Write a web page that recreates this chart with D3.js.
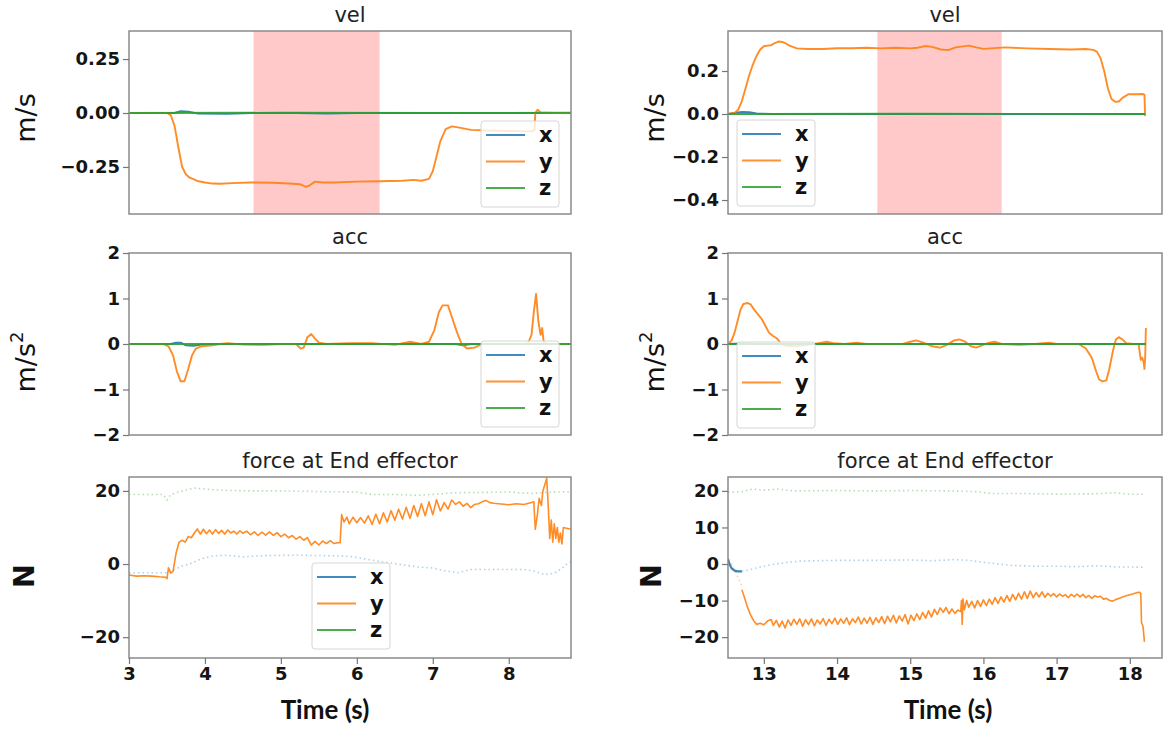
<!DOCTYPE html>
<html>
<head>
<meta charset="utf-8">
<script src="https://cdn.jsdelivr.net/npm/d3@7"></script>
<style>
body{margin:0;background:#fff;}
svg{display:block;font-family:"DejaVu Sans",sans-serif;}
</style>
</head>
<body>
<script>
// ---- data ----
const bandL=[4.64,6.3], bandR=[14.55,16.25];

const velTicksL=[0.25,0,-0.25], velTicksR=[0.2,0,-0.2,-0.4];
const accTicks=[2,1,0,-1,-2];
const forceTicksL=[20,0,-20], forceTicksR=[20,10,0,-10,-20];
const timeTicksL=[3,4,5,6,7,8], timeTicksR=[13,14,15,16,17,18];

// left column (3 - 8.8 s)
const velL_x=[[3,0],[3.6,0],[3.68,0.008],[3.78,0.006],[3.9,-0.002],[4.3,-0.004],[4.6,0],[5.2,0],[5.6,-0.003],[6.0,0],[8.82,0]];
const velL_y=[[3.0,0],[3.5,0],[3.55,-0.01],[3.6,-0.06],[3.65,-0.16],[3.7,-0.25],[3.75,-0.285],[3.8,-0.3],[3.9,-0.315],[4.0,-0.322],[4.1,-0.327],[4.2,-0.328],[4.35,-0.325],[4.6,-0.322],[4.9,-0.323],[5.1,-0.327],[5.25,-0.33],[5.33,-0.342],[5.38,-0.335],[5.45,-0.318],[5.55,-0.322],[5.7,-0.322],[6.0,-0.318],[6.3,-0.316],[6.6,-0.314],[6.75,-0.31],[6.85,-0.314],[6.95,-0.305],[7.0,-0.27],[7.05,-0.2],[7.1,-0.13],[7.17,-0.075],[7.25,-0.062],[7.35,-0.068],[7.5,-0.078],[7.8,-0.082],[8.1,-0.084],[8.3,-0.085],[8.34,-0.08],[8.35,0.0],[8.38,0.015],[8.42,0.003],[8.6,0.0],[8.82,0.0]];
const velL_z=[[3,0],[5,0.001],[7,0],[8.82,0.001]];

const accL_x=[[3,0],[3.55,0],[3.62,0.03],[3.68,0.03],[3.75,-0.03],[3.85,-0.04],[3.95,-0.01],[4.1,0],[7.3,0],[7.4,-0.03],[7.5,0],[8.82,0]];
const accL_y=[[3,0],[3.45,0],[3.52,-0.05],[3.58,-0.25],[3.63,-0.6],[3.68,-0.82],[3.73,-0.82],[3.78,-0.55],[3.83,-0.25],[3.88,-0.1],[3.95,-0.05],[4.1,-0.03],[4.2,0],[4.3,0.02],[4.5,-0.01],[4.8,-0.02],[5.0,0],[5.2,0],[5.26,-0.1],[5.3,-0.08],[5.35,0.15],[5.4,0.22],[5.45,0.12],[5.5,0.03],[5.6,0],[5.9,0.02],[6.2,0.02],[6.5,-0.02],[6.7,0.05],[6.85,0],[6.95,0.05],[7.02,0.3],[7.08,0.7],[7.13,0.85],[7.2,0.85],[7.25,0.6],[7.32,0.25],[7.38,0.0],[7.45,-0.1],[7.55,-0.08],[7.65,0],[8.25,0],[8.3,0.2],[8.33,0.7],[8.36,1.1],[8.39,0.5],[8.42,0.2],[8.44,0.35],[8.46,0.05],[8.5,0],[8.82,0]];
const accL_z=[[3,0],[8.82,0]];

const forceL_x=[[3,-2.4],[3.5,-2.4],[3.6,-1.5],[3.7,-0.5],[3.8,0],[3.95,1.4],[4.1,2.2],[4.25,2.4],[4.5,2],[4.8,2.3],[5.2,2.4],[5.6,2.3],[5.9,2.1],[6.1,1.4],[6.3,0.7],[6.6,-0.2],[6.8,-0.8],[7.0,-1.1],[7.15,-1.8],[7.33,-2.4],[7.5,-1.5],[7.8,-1.5],[8.2,-1.5],[8.35,-2],[8.47,-2.9],[8.6,-2.5],[8.7,-1.2],[8.78,0.3],[8.82,0.5]];
const forceL_y=[[3.0,-3],[3.1,-3.3],[3.2,-3.2],[3.3,-3.3],[3.4,-3.5],[3.48,-3.6],[3.5,-4],[3.52,-1],[3.55,-2.5],[3.58,-2],[3.62,3],[3.66,6],[3.7,6.5],[3.74,6],[3.78,7.5],[3.82,7.2],[3.86,8.5],[3.9,9.6],[3.94,8.2],[3.98,9.5],[4.02,8.3],[4.06,9.3],[4.1,8.2],[4.14,9.4],[4.18,8.4],[4.22,9.2],[4.26,8.2],[4.3,9.3],[4.34,8.5],[4.38,9],[4.42,8.2],[4.46,9.1],[4.5,8.4],[4.55,9.0],[4.6,8],[4.65,8.8],[4.7,7.8],[4.75,8.7],[4.8,7.9],[4.85,8.8],[4.9,7.8],[4.95,8.6],[5.0,7.5],[5.05,8.2],[5.1,7.2],[5.15,7.8],[5.2,6.8],[5.25,7.5],[5.3,6.5],[5.35,7.2],[5.4,5.2],[5.45,6.2],[5.5,5.2],[5.55,6.3],[5.6,5.6],[5.65,6.4],[5.7,5.6],[5.75,5.8],[5.78,5.8],[5.8,13.5],[5.83,11.5],[5.87,12.8],[5.9,11],[5.95,12.8],[6.0,11.3],[6.05,12.7],[6.1,11.2],[6.15,13.2],[6.2,10.8],[6.25,13.6],[6.3,11],[6.35,14],[6.4,11.5],[6.45,14.6],[6.5,12],[6.55,15],[6.6,12.3],[6.65,15.5],[6.7,12.5],[6.75,16],[6.8,13],[6.85,16.5],[6.9,13.2],[6.95,17],[7.0,13.5],[7.05,17.6],[7.1,14.5],[7.15,16.8],[7.2,15],[7.25,17.5],[7.3,16.3],[7.35,17],[7.4,15.8],[7.45,16.6],[7.5,15.4],[7.55,16.3],[7.6,16.5],[7.65,17],[7.7,17.4],[7.75,16.8],[7.8,16.6],[7.9,16.4],[8.0,16.2],[8.1,16.5],[8.2,16.3],[8.3,16.8],[8.33,17],[8.35,9.5],[8.38,14],[8.4,18],[8.43,16],[8.45,20],[8.48,22],[8.5,23.5],[8.52,16],[8.54,7],[8.56,12],[8.58,6],[8.6,11],[8.62,7],[8.64,10],[8.66,6],[8.68,8.5],[8.7,5.5],[8.72,10],[8.76,9.8],[8.82,9.5]];
const forceL_z=[[3,19],[3.45,19],[3.5,17.5],[3.55,19],[3.7,20],[3.86,20.8],[4.0,20.5],[4.2,20.2],[4.6,20],[5.0,20],[5.5,19.8],[6.0,19.7],[6.2,19],[6.5,19],[6.8,18.8],[7.1,19.2],[7.3,19.5],[7.7,19.6],[8.0,19.7],[8.3,19.3],[8.5,19.6],[8.82,19.8]];

// right column (12.5 - 18.4 s)
const velR_x=[[12.51,0],[12.6,0.005],[12.7,0.01],[12.8,0.008],[12.9,0.003],[13.1,0],[18.2,0]];
const velR_y=[[12.51,0],[12.6,0.005],[12.65,0.02],[12.7,0.06],[12.75,0.12],[12.8,0.18],[12.85,0.23],[12.9,0.27],[12.95,0.3],[13.0,0.315],[13.05,0.318],[13.1,0.32],[13.15,0.33],[13.2,0.337],[13.25,0.335],[13.3,0.328],[13.35,0.318],[13.45,0.305],[13.6,0.302],[13.8,0.302],[14.0,0.306],[14.2,0.306],[14.4,0.308],[14.6,0.305],[14.8,0.308],[15.0,0.305],[15.1,0.308],[15.2,0.316],[15.3,0.312],[15.42,0.3],[15.52,0.297],[15.62,0.31],[15.8,0.318],[15.9,0.31],[16.0,0.303],[16.1,0.305],[16.3,0.31],[16.6,0.305],[16.9,0.302],[17.2,0.3],[17.4,0.302],[17.5,0.298],[17.55,0.29],[17.6,0.26],[17.65,0.2],[17.7,0.12],[17.75,0.07],[17.8,0.057],[17.85,0.058],[17.9,0.075],[17.98,0.092],[18.1,0.092],[18.18,0.093],[18.2,0.09],[18.21,-0.01]];
const velR_z=[[12.51,0],[15,0.001],[18.21,0]];

const accR_x=[[12.51,0],[12.7,0.01],[12.9,0],[18.22,0]];
const accR_y=[[12.51,0],[12.56,0.08],[12.6,0.25],[12.64,0.5],[12.68,0.75],[12.72,0.88],[12.78,0.9],[12.82,0.87],[12.87,0.75],[12.92,0.65],[12.97,0.55],[13.02,0.4],[13.07,0.25],[13.12,0.18],[13.18,0.12],[13.24,0.0],[13.3,-0.04],[13.45,-0.05],[13.6,-0.02],[13.75,0.02],[13.86,0.05],[13.95,0.02],[14.1,0],[14.27,0.03],[14.4,0],[14.9,0],[15.0,0.05],[15.08,0.08],[15.18,0.03],[15.3,-0.05],[15.41,-0.08],[15.5,-0.02],[15.6,0.08],[15.67,0.1],[15.75,0.05],[15.83,-0.05],[15.9,-0.08],[15.98,-0.03],[16.08,0.03],[16.15,0.05],[16.25,0.0],[16.5,-0.02],[16.7,0],[16.9,0.03],[17.0,0],[17.3,0],[17.4,-0.1],[17.48,-0.3],[17.54,-0.6],[17.58,-0.78],[17.63,-0.82],[17.68,-0.8],[17.72,-0.55],[17.77,-0.15],[17.81,0.1],[17.85,0.15],[17.9,0.1],[17.95,0.02],[18.05,0],[18.12,0],[18.15,-0.35],[18.17,-0.3],[18.19,-0.4],[18.2,-0.55],[18.21,-0.3],[18.22,0.35]];
const accR_z=[[12.51,0],[18.22,0]];

const forceR_xStart=[[12.51,1.4],[12.53,0],[12.56,-1.2],[12.6,-1.8],[12.64,-2],[12.7,-2]];
const forceR_x=[[12.7,-2],[12.8,-1.6],[12.95,-0.8],[13.1,-0.2],[13.3,0.4],[13.5,0.8],[13.7,0.9],[14.0,1],[14.5,1],[15.0,1.1],[15.3,0.9],[15.6,1.2],[15.8,1.0],[16.0,0.5],[16.2,0],[16.4,-0.4],[16.7,-0.6],[17.0,-0.6],[17.3,-0.7],[17.6,-0.5],[17.8,-0.8],[18.0,-0.8],[18.2,-0.9]];
const forceR_yStart=[[12.51,1],[12.56,0],[12.62,-2.5],[12.7,-6]];
const forceR_y=[[12.7,-7],[12.74,-9.5],[12.78,-12],[12.82,-14],[12.86,-15.5],[12.9,-16.5],[12.95,-16.2],[13.0,-16.6],[13.05,-15.6],[13.1,-15.2],[13.13,-16.8],[13.17,-15.4],[13.21,-17.2],[13.25,-15.6],[13.29,-17.5],[13.33,-15.3],[13.37,-16.8],[13.41,-15.1],[13.45,-16.5],[13.49,-15.0],[13.53,-17.0],[13.57,-15.2],[13.61,-16.6],[13.65,-15.0],[13.69,-16.9],[13.73,-15.3],[13.77,-16.4],[13.81,-14.9],[13.85,-16.8],[13.89,-15.1],[13.93,-16.3],[13.97,-14.8],[14.01,-16.5],[14.05,-15.0],[14.09,-16.2],[14.13,-14.7],[14.17,-16.6],[14.21,-15.0],[14.25,-16.0],[14.29,-14.5],[14.33,-16.4],[14.37,-14.8],[14.41,-16.2],[14.45,-14.6],[14.49,-16.5],[14.53,-14.7],[14.57,-16.0],[14.61,-14.4],[14.65,-16.3],[14.69,-14.3],[14.73,-15.8],[14.77,-14.0],[14.81,-16.1],[14.85,-14.2],[14.89,-15.6],[14.93,-13.8],[14.97,-16.4],[15.01,-14.0],[15.05,-15.5],[15.09,-13.6],[15.13,-15.2],[15.17,-13.2],[15.21,-14.8],[15.25,-12.8],[15.29,-14.5],[15.33,-12.4],[15.37,-13.8],[15.41,-12.0],[15.45,-13.2],[15.49,-11.9],[15.53,-13.6],[15.57,-12.3],[15.61,-13.5],[15.65,-12.6],[15.69,-13.0],[15.7,-10.0],[15.71,-16.5],[15.72,-9.5],[15.74,-12.5],[15.77,-10.0],[15.8,-11.8],[15.84,-10.2],[15.88,-12.0],[15.92,-10.0],[15.96,-11.6],[16.0,-9.8],[16.04,-11.4],[16.08,-9.6],[16.12,-11.0],[16.16,-9.2],[16.2,-10.8],[16.24,-9.0],[16.28,-10.4],[16.32,-8.6],[16.36,-10.2],[16.4,-8.3],[16.44,-9.8],[16.48,-8.0],[16.52,-9.6],[16.56,-7.6],[16.6,-9.4],[16.64,-7.4],[16.68,-9.2],[16.72,-7.8],[16.76,-9.0],[16.8,-7.6],[16.84,-9.1],[16.88,-8.0],[16.92,-8.8],[16.96,-8.1],[17.0,-9.0],[17.04,-8.2],[17.08,-8.8],[17.12,-8.4],[17.16,-9.2],[17.2,-8.3],[17.24,-8.9],[17.28,-8.2],[17.32,-9.0],[17.36,-8.3],[17.4,-9.2],[17.44,-8.6],[17.48,-9.4],[17.52,-8.7],[17.56,-9.0],[17.6,-8.8],[17.64,-9.6],[17.68,-9.4],[17.72,-9.9],[17.76,-10.2],[17.8,-9.8],[17.85,-9.4],[17.9,-9.0],[17.95,-8.7],[18.0,-8.4],[18.05,-8.1],[18.1,-7.8],[18.13,-7.7],[18.15,-8.1],[18.16,-16],[18.18,-17],[18.2,-21.3]];
const forceR_z=[[12.51,19.6],[12.7,19.8],[12.85,20.5],[13.0,20.2],[13.2,20.5],[13.4,20],[14.0,20.1],[14.5,20],[15.0,20.1],[15.5,20],[15.9,19.8],[16.1,19.3],[16.5,19.3],[17.0,19.1],[17.5,19.2],[17.8,19.5],[18.0,19.1],[18.2,19.1]];

// ---- layout ----
const W=1163,H=731;
const C={x:"#1f77b4",y:"#ff7f0e",z:"#2ca02c"};
const cols={L:{x0:129,x1:571,dom:[3,8.82]},R:{x0:728,x1:1162,dom:[12.51,18.44]}};
const rows={vel:{y0:31,y1:214},acc:{y0:253,y1:435},force:{y0:477,y1:658}};

const svg=d3.select("body").append("svg").attr("width",W).attr("height",H);
svg.append("rect").attr("width",W).attr("height",H).attr("fill","#fff");

let clipN=0;
function panel(col,row,o){
  const x=d3.scaleLinear().domain(col.dom).range([col.x0,col.x1]);
  const y=d3.scaleLinear().domain(o.ydom).range([row.y1,row.y0]);
  const g=svg.append("g");
  const id="clip"+(clipN++);
  g.append("clipPath").attr("id",id).append("rect")
    .attr("x",col.x0).attr("y",row.y0).attr("width",col.x1-col.x0).attr("height",row.y1-row.y0);
  const inner=g.append("g").attr("clip-path",`url(#${id})`);
  if(o.band){
    inner.append("rect").attr("x",x(o.band[0])).attr("width",x(o.band[1])-x(o.band[0]))
      .attr("y",row.y0).attr("height",row.y1-row.y0).attr("fill","#ff0000").attr("fill-opacity",0.21);
  }
  const line=d3.line().x(d=>x(d[0])).y(d=>y(d[1]));
  o.series.forEach(s=>{
    inner.append("path").attr("d",line(s.data)).attr("fill","none")
      .attr("stroke",s.color).attr("stroke-width",s.w||1.9)
      .attr("stroke-opacity",s.op==null?0.9:s.op)
      .attr("stroke-dasharray",s.dash||null)
      .attr("stroke-linejoin","round");
  });
  g.append("rect").attr("x",col.x0).attr("y",row.y0).attr("width",col.x1-col.x0).attr("height",row.y1-row.y0)
    .attr("fill","none").attr("stroke","#8a8a8a").attr("stroke-width",1.5);
  const ya=g.append("g").attr("transform",`translate(${col.x0},0)`)
    .call(d3.axisLeft(y).tickValues(o.yticks).tickFormat(d3.format(o.fmt)).tickSize(6).tickPadding(3));
  styleAxis(ya);
  if(o.xticks){
    const xa=g.append("g").attr("transform",`translate(0,${row.y1})`)
      .call(d3.axisBottom(x).tickValues(o.xticks).tickFormat(d3.format("d")).tickSize(6).tickPadding(3));
    styleAxis(xa);
    g.append("text").attr("x",o.xlabelX).attr("y",719).attr("text-anchor","middle")
      .attr("font-family","Lato").attr("font-weight","bold").attr("font-size",26).attr("fill","#111").text("Time (s)");
  }
  g.append("text").attr("x",(col.x0+col.x1)/2).attr("y",row.y0-9).attr("text-anchor","middle")
    .attr("font-size",21).attr("fill","#222").text(o.title);
  // y label
  const yl=g.append("text").attr("transform",`translate(${o.ylabX},${o.ylabY}) rotate(-90)`)
    .attr("text-anchor","middle").attr("fill","#111");
  if(o.ylab==="N"){
    yl.attr("font-size",29).attr("font-weight","bold").text("N");
  } else {
    yl.attr("font-size",27).text("m/s");
    if(o.ylab==="acc") yl.append("tspan").attr("dy",-12).attr("font-size",18).text("2");
  }
  if(o.legend) legend(g,o.legend[0],o.legend[1]);
}
function styleAxis(a){
  a.select(".domain").remove();
  a.selectAll(".tick line").attr("stroke","#777").attr("stroke-width",1.2);
  a.selectAll(".tick text").attr("font-family","DejaVu Sans").attr("font-weight","bold")
    .attr("font-size",18).attr("fill","#151515");
}
function legend(g,lx,ly){
  const lg=g.append("g").attr("transform",`translate(${lx},${ly})`);
  lg.append("rect").attr("width",78).attr("height",86).attr("rx",3)
    .attr("fill","#fff").attr("fill-opacity",0.8).attr("stroke","#d6d6d6");
  ["x","y","z"].forEach((k,i)=>{
    const yy=14+i*26.5;
    lg.append("line").attr("x1",5).attr("x2",44).attr("y1",yy).attr("y2",yy)
      .attr("stroke",C[k]).attr("stroke-width",2).attr("stroke-opacity",0.85);
    lg.append("text").attr("x",58).attr("y",yy+7).attr("font-weight","bold")
      .attr("font-size",21).attr("fill","#111").text(k);
  });
}
const sol=(d,k)=>({data:d,color:C[k]});
const dot=(d,k)=>({data:d,color:C[k],dash:"1.5,3",op:0.35,w:1.6});

panel(cols.L,rows.vel,{ydom:[-0.468,0.38],yticks:velTicksL,fmt:".2f",band:bandL,title:"vel",
  ylab:"vel",ylabX:35,ylabY:118,legend:[481,121],
  series:[sol(velL_x,"x"),sol(velL_y,"y"),sol(velL_z,"z")]});
panel(cols.L,rows.acc,{ydom:[-2,2],yticks:accTicks,fmt:"d",title:"acc",
  ylab:"acc",ylabX:35,ylabY:362,legend:[481,341],
  series:[sol(accL_x,"x"),sol(accL_y,"y"),sol(accL_z,"z")]});
panel(cols.L,rows.force,{ydom:[-25.7,23.8],yticks:forceTicksL,fmt:"d",title:"force at End effector",
  ylab:"N",ylabX:34,ylabY:576,legend:[312,563],xticks:timeTicksL,xlabelX:325,
  series:[dot(forceL_x,"x"),dot(forceL_z,"z"),{data:forceL_y,color:C.y,w:1.6}]});

panel(cols.R,rows.vel,{ydom:[-0.465,0.386],yticks:velTicksR,fmt:".1f",band:bandR,title:"vel",
  ylab:"vel",ylabX:664,ylabY:118,legend:[737,120],
  series:[sol(velR_x,"x"),sol(velR_y,"y"),sol(velR_z,"z")]});
panel(cols.R,rows.acc,{ydom:[-2,2],yticks:accTicks,fmt:"d",title:"acc",
  ylab:"acc",ylabX:664,ylabY:362,legend:[737,342],
  series:[sol(accR_x,"x"),sol(accR_y,"y"),sol(accR_z,"z")]});
panel(cols.R,rows.force,{ydom:[-25.7,23.8],yticks:forceTicksR,fmt:"d",title:"force at End effector",
  ylab:"N",ylabX:661,ylabY:576,xticks:timeTicksR,xlabelX:948,
  series:[dot(forceR_x,"x"),dot(forceR_z,"z"),{data:forceR_yStart,color:C.y,dash:"1.5,3",op:0.35,w:1.6},
    {data:forceR_xStart,color:C.x,w:2.2},{data:forceR_y,color:C.y,w:1.6}]});
</script>
</body>
</html>
